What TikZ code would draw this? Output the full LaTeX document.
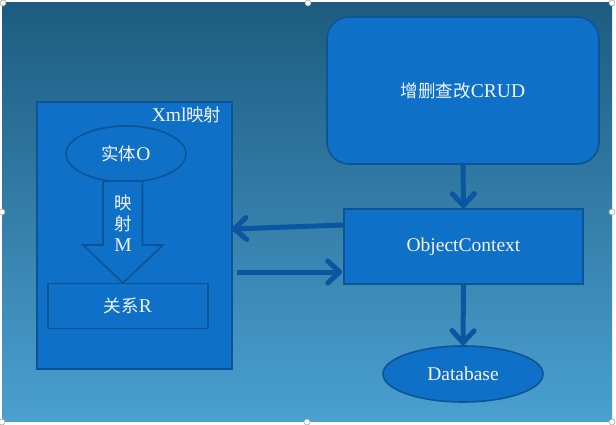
\documentclass[tikz,border=0pt]{standalone}
\usepackage{fontspec}
\setmainfont{Liberation Serif}
\newfontfamily\cjk{Noto Sans CJK SC}
\newcommand{\zh}[1]{{\cjk\fontsize{17.5}{20}\selectfont #1}}
\usetikzlibrary{shapes.geometric,arrows.meta}
\definecolor{boxfill}{RGB}{15,112,199}
\definecolor{boxline}{RGB}{12,84,150}
\definecolor{arrcol}{RGB}{10,86,160}
\definecolor{bgtop}{RGB}{29,92,128}
\definecolor{bgbot}{RGB}{74,160,208}
\definecolor{txt}{RGB}{242,244,248}
\tikzset{
  txtstyle/.style={text=txt,font=\fontsize{19.5}{22}\selectfont},
  box/.style={draw=boxline,line width=1.6pt,fill=boxfill,txtstyle,inner sep=0pt},
  arr/.style={draw=arrcol,line width=5pt,-{Straight Barb[length=12pt,width=22pt,round]}},
  handle/.style={circle,draw=gray!70,fill=white,line width=0.6pt,minimum size=6pt,inner sep=0pt}
}
\begin{document}
\begin{tikzpicture}[x=1pt,y=-1pt]
\useasboundingbox (0,0) rectangle (616,425);
\fill[white] (0,0) rectangle (616,425);
\shade[top color=bgtop,bottom color=bgbot] (2,3) rectangle (612,421);
% Xml box
\node[box,minimum width=195pt,minimum height=267pt] (xml) at (134.5,235.5) {};
\node[txtstyle,anchor=east] (xmllbl) at (225,115) {Xml\zh{映射}};
% entity ellipse
\node[box,ellipse,minimum width=120pt,minimum height=56pt] (ent) at (126,154) {\zh{实体}O};
% block arrow
\draw[draw=boxline,line width=1.6pt,fill=boxfill] (103,181) -- (142.5,181) -- (142.5,245) -- (163,245) -- (123,283) -- (83,245) -- (103,245) -- cycle;
\node[txtstyle] (m1) at (123,203) {\zh{映}};
\node[txtstyle] (m2) at (123,224) {\zh{射}};
\node[txtstyle] (m3) at (123,245) {M};
% relation
\node[box,minimum width=160pt,minimum height=45pt] (rel) at (128,306) {\zh{关系}R};
% CRUD
\node[box,rounded corners=22pt,minimum width=272pt,minimum height=147pt] (crud) at (463,90.5) {\zh{增删查改}CRUD};
% ObjectContext
\node[box,minimum width=239pt,minimum height=75pt] (oc) at (463.5,246.5) {ObjectContext};
% Database
\node[box,ellipse,minimum width=160pt,minimum height=56pt] (db) at (463,374) {Database};
% connectors
\draw[arr] (crud.south) -- (oc.north);
\draw[arr] (oc.south) -- (db.north);
\draw[arr,shorten >=-1pt] ([yshift=21.5pt]oc.west) -- ([yshift=6.5pt]xml.east);
\draw[arr,shorten >=1pt] ([xshift=4.5pt,yshift=-36.5pt]xml.east) -- ([yshift=-25.5pt]oc.west);
% selection handles
\foreach \p/\n in {{(3,3)/h1},{(308,3)/h2},{(612,3)/h3},{(2,212)/h4},{(612,212)/h5},{(2,422)/h6},{(307,422)/h7},{(612,422)/h8}}
  \node[handle] (\n) at \p {};
\end{tikzpicture}
\end{document}
